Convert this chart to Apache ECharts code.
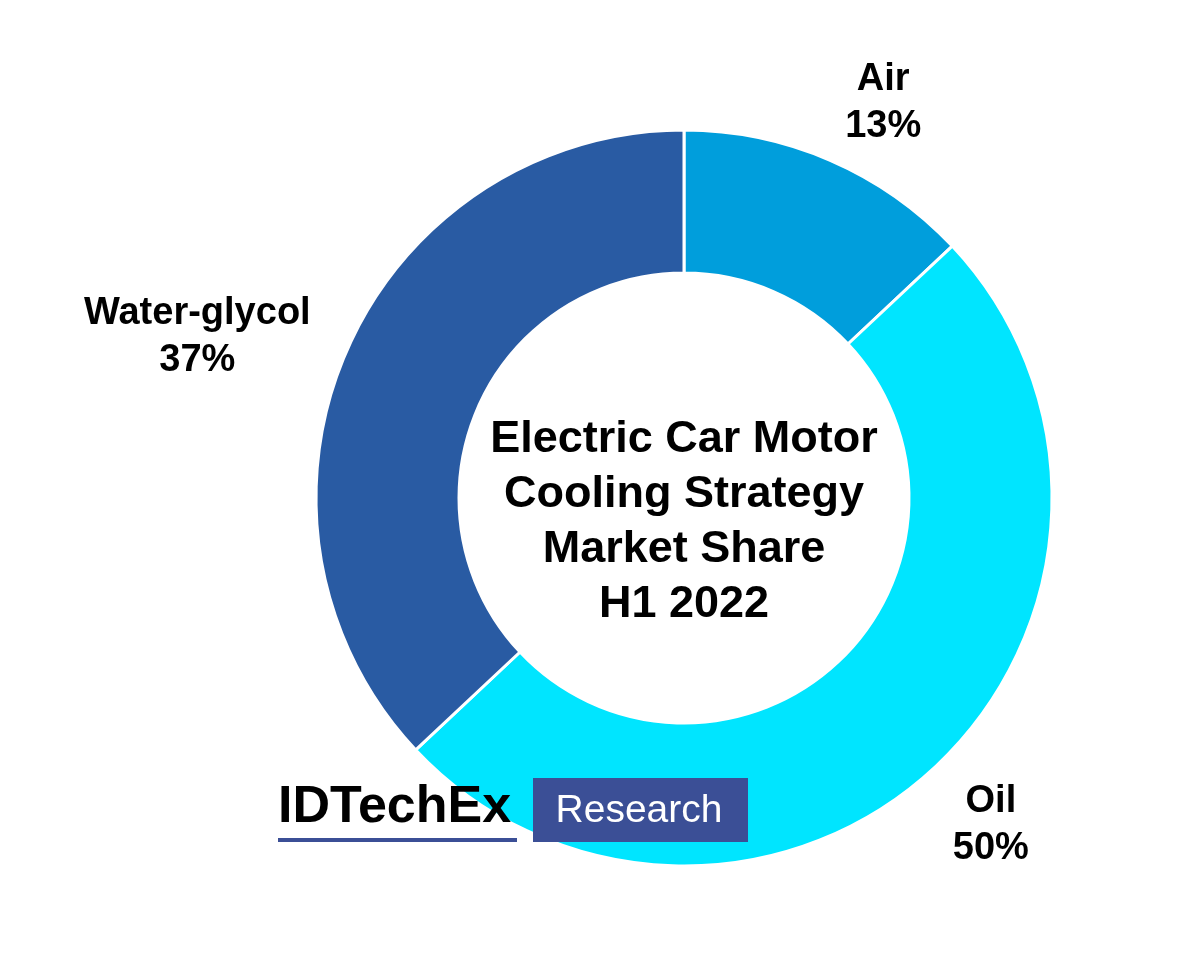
<!DOCTYPE html>
<html>
<head>
<meta charset="utf-8">
<script src="https://cdn.jsdelivr.net/npm/echarts@6/dist/echarts.min.js"></script>
<style>
html,body{margin:0;padding:0;background:#fff;}
#main{width:1200px;height:971px;}
</style>
</head>
<body>
<div id="main"></div>
<script>
const categories = ['Air', 'Oil', 'Water-glycol'];
const shares = [13, 50, 37];
const colors = ['#009EDC', '#00E5FF', '#295BA3'];
const centerTitle = 'Electric Car Motor\nCooling Strategy\nMarket Share\nH1 2022';

// layout constants (not data)
const CX = 684, CY = 498, R_IN = 225, R_OUT = 368;
const labelNudge = [[22, 15], [0, 0], [-18, 42]];

const total = shares.reduce((a, b) => a + b, 0);
const midFrac = [];
let acc = 0;
shares.forEach(v => { midFrac.push((acc + v / 2) / total); acc += v; });

const chart = echarts.init(document.getElementById('main'), null, {renderer: 'canvas'});
const FONT = '"Liberation Sans", Arial, Helvetica, sans-serif';

chart.setOption({
  backgroundColor: '#ffffff',
  animation: false,
  series: [{
    type: 'pie',
    center: [CX, CY],
    radius: [R_IN, R_OUT],
    startAngle: 90,
    clockwise: true,
    avoidLabelOverlap: false,
    itemStyle: {borderColor: '#ffffff', borderWidth: 3},
    label: {
      show: true,
      position: 'outside',
      formatter: '{b}\n{d}%',
      fontFamily: FONT,
      fontWeight: 'bold',
      fontSize: 38,
      lineHeight: 47,
      color: '#000000',
      align: 'center'
    },
    labelLine: {show: false},
    labelLayout: function (p) {
      const th = midFrac[p.dataIndex] * 2 * Math.PI;
      const s = Math.sin(th), c = Math.cos(th);
      const w = p.labelRect.width, h = p.labelRect.height;
      const r = R_OUT + 20 + Math.abs(s) * w / 2 + Math.abs(c) * h / 2;
      const n = labelNudge[p.dataIndex];
      return {x: CX + r * s + n[0], y: CY - r * c + n[1], align: 'center', verticalAlign: 'middle'};
    },
    emphasis: {disabled: true},
    data: categories.map((n, i) => ({name: n, value: shares[i], itemStyle: {color: colors[i]}}))
  }],
  graphic: [
    {
      type: 'text', x: CX, y: 522, z: 100,
      style: {
        text: centerTitle, fill: '#000000',
        font: 'bold 45px ' + FONT,
        lineHeight: 55, textAlign: 'center', textVerticalAlign: 'middle'
      }
    },
    {
      type: 'text', x: 278, y: 808, z: 100,
      style: {
        text: 'IDTechEx', fill: '#000000',
        font: 'bold 52px ' + FONT,
        textAlign: 'left', textVerticalAlign: 'middle'
      }
    },
    {
      type: 'rect', z: 100,
      shape: {x: 278, y: 838, width: 239, height: 4},
      style: {fill: '#3B4F96'}
    },
    {
      type: 'rect', z: 100,
      shape: {x: 533, y: 778, width: 215, height: 64},
      style: {fill: '#3B4F96'}
    },
    {
      type: 'text', x: 639, y: 811, z: 101,
      style: {
        text: 'Research', fill: '#ffffff',
        font: '39px ' + FONT,
        textAlign: 'center', textVerticalAlign: 'middle'
      }
    }
  ]
});
</script>
</body>
</html>
